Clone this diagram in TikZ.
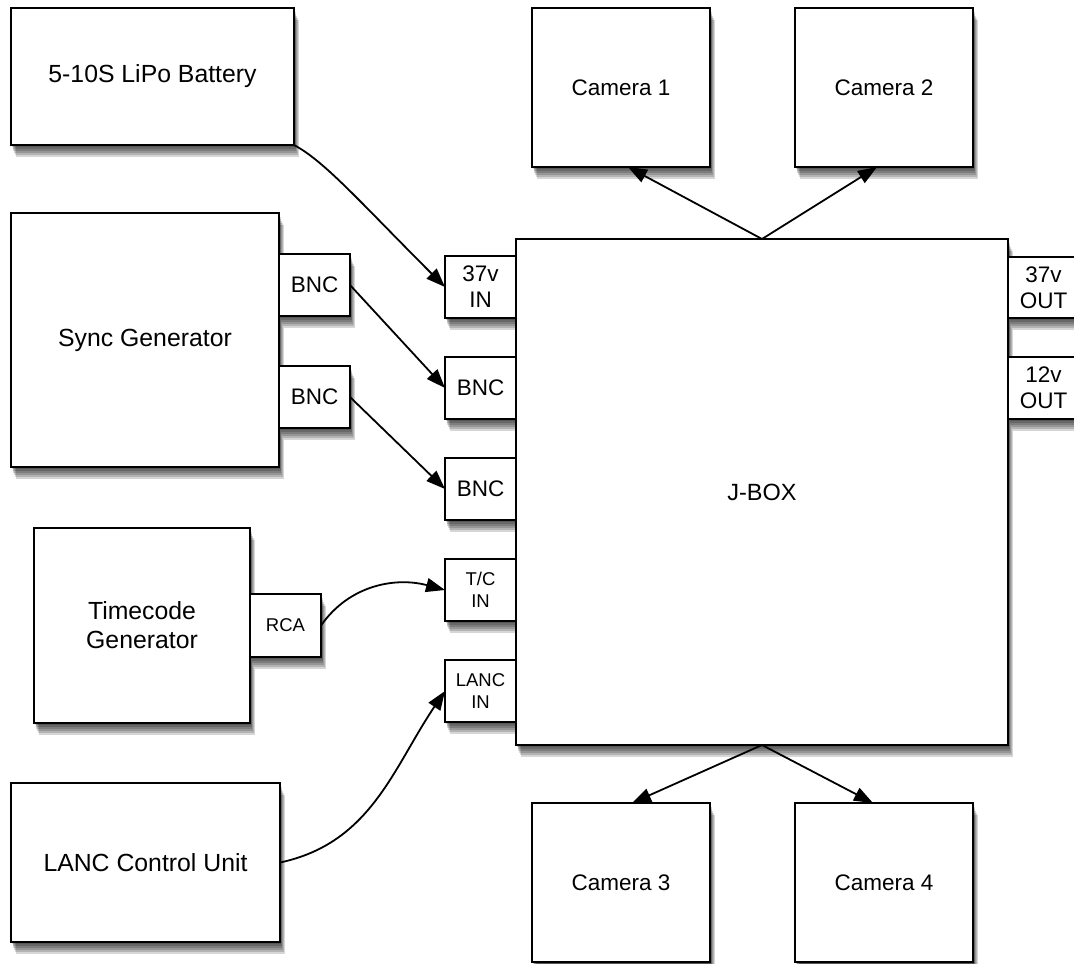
\documentclass[tikz,border=0pt]{standalone}
\usepackage{fontspec}
\newfontfamily\lib{Liberation Sans}
\usetikzlibrary{arrows.meta,shadows}
\begin{document}
\begin{tikzpicture}[x=1pt,y=1pt,
  shd/.style={general shadow={fill=black, opacity=0.16, shadow xshift=#1*0.8pt, shadow yshift=-#1*2pt}},
  box/.style={draw, line width=2pt, fill=white, rectangle, inner sep=0pt, outer sep=0pt,
    align=center, anchor=north west,
    shd=6, shd=5, shd=4, shd=3, shd=2, shd=1},
  big/.style={box, font=\lib\fontsize{24.8}{29}\selectfont},
  port/.style={box, font=\lib\fontsize{22.5}{26}\selectfont, minimum width=71pt, minimum height=62pt},
  sport/.style={box, font=\lib\fontsize{18.5}{22}\selectfont, minimum width=71pt, minimum height=62pt},
  cam/.style={box, font=\lib\fontsize{22.5}{27}\selectfont, minimum width=178pt, minimum height=159pt},
  arr/.style={line width=1.8pt, -{Triangle[length=19pt,width=14pt]}},
]
\fill[white] (0,0) rectangle (1074,-964);
\useasboundingbox (0,0) rectangle (1074,-964);

% left side sources
\node[big, minimum width=283pt, minimum height=137pt] (bat) at (11,-8) {5-10S LiPo Battery};
\node[big, minimum width=268pt, minimum height=254pt] (sync) at (11,-213) {Sync Generator};
\node[port] (sbnc1) at (279,-254) {BNC};
\node[port] (sbnc2) at (279,-366) {BNC};
\node[big, minimum width=216pt, minimum height=195pt] (tc) at (34,-528) {Timecode\\Generator};
\node[sport, minimum height=63pt] (rca) at (250,-594) {RCA};
\node[big, minimum width=269pt, minimum height=159pt] (lanc) at (11,-783) {LANC Control Unit};

% cameras
\node[cam] (cam1) at (532,-8) {Camera 1};
\node[cam] (cam2) at (795,-8) {Camera 2};
\node[cam] (cam3) at (532,-803) {Camera 3};
\node[cam] (cam4) at (795,-803) {Camera 4};

% J-box input ports
\node[port] (p37in) at (445,-256) {37v\\IN};
\node[port] (pbnc1) at (445,-357) {BNC};
\node[port] (pbnc2) at (445,-458) {BNC};
\node[sport] (ptc) at (445,-559) {T/C\\IN};
\node[sport] (planc) at (445,-660) {LANC\\IN};

% J-box
\node[box, font=\lib\fontsize{23.5}{28}\selectfont, minimum width=492pt, minimum height=506pt] (jbox) at (516,-239) {J-BOX};

% J-box output ports
\node[port, minimum height=61pt] (p37out) at (1008,-257) {37v\\OUT};
\node[port] (p12out) at (1008,-357) {12v\\OUT};

% connectors
\draw[arr] (bat.south east) .. controls +(-28:35pt) and +(135:120pt) .. (p37in.west);
\draw[arr] (sbnc1.east) -- (pbnc1.west);
\draw[arr] (sbnc2.east) -- (pbnc2.west);
\draw[arr] (rca.east) to[out=55,in=165] (ptc.west);
\draw[arr] (lanc.east) to[out=12,in=236] (planc.west);
\draw[arr] (jbox.north) -- ([xshift=7pt]cam1.south);
\draw[arr] (jbox.north) -- ([xshift=-7pt]cam2.south);
\draw[arr] (jbox.south) -- ([xshift=11pt]cam3.north);
\draw[arr] (jbox.south) -- ([xshift=-11pt]cam4.north);
\end{tikzpicture}
\end{document}
